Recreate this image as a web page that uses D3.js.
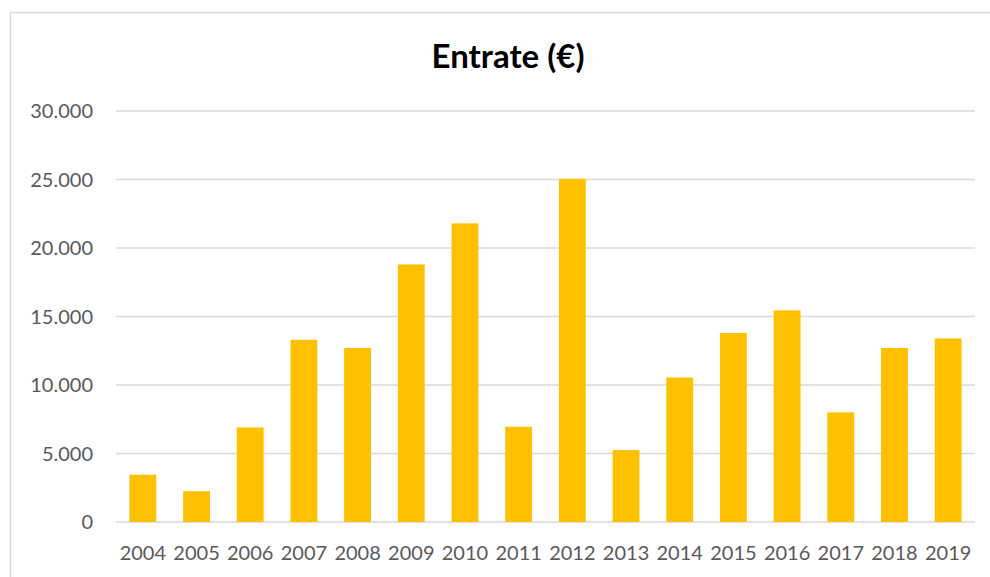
<!DOCTYPE html>
<html>
<head>
<meta charset="utf-8">
<script src="https://cdn.jsdelivr.net/npm/d3@7"></script>
<style>
  html, body { margin: 0; padding: 0; background: #fff; overflow: hidden; }
  svg { display: block; }
  text { font-family: Lato, "Open Sans", sans-serif; }
</style>
</head>
<body>
<div id="chart"></div>
<script>
const years = ["2004", "2005", "2006", "2007", "2008", "2009", "2010", "2011",
               "2012", "2013", "2014", "2015", "2016", "2017", "2018", "2019"];
const entrate = [3450, 2250, 6900, 13300, 12700, 18800, 21800, 6950,
                 25050, 5250, 10550, 13800, 15450, 8000, 12700, 13400];
const yTicks = [0, 5000, 10000, 15000, 20000, 25000, 30000];

const width = 990;
const height = 577;
const margin = {top: 111, right: 15, bottom: 55, left: 116};
const innerWidth = width - margin.left - margin.right;
const innerHeight = height - margin.top - margin.bottom;

const svg = d3.select('#chart')
    .append('svg')
    .attr('width', width)
    .attr('height', height);

// chart area border (only top and left edges are visible)
svg.append('path')
    .attr('d', `M10.5,${height} V12.5 H${width}`)
    .attr('fill', 'none')
    .attr('stroke', '#d9d9d9')
    .attr('stroke-width', 1.5);

svg.append('text')
    .attr('x', 508)
    .attr('y', 68)
    .attr('text-anchor', 'middle')
    .attr('font-size', 33)
    .attr('font-weight', 'bold')
    .attr('fill', '#000')
    .text('Entrate (€)');

const g = svg.append('g')
    .attr('transform', `translate(${margin.left},${margin.top})`);

const xScale = d3.scaleBand().domain(years).range([0, innerWidth]).paddingInner(0.5).paddingOuter(0.25);
const yScale = d3.scaleLinear().domain([0, 30000]).range([innerHeight, 0]);

const fmt = d => d3.format(',')(d).replace(/,/g, '.');

// gridlines
g.selectAll('line.grid')
    .data(yTicks)
    .enter().append('line')
    .attr('class', 'grid')
    .attr('x1', 0)
    .attr('x2', innerWidth)
    .attr('y1', d => yScale(d))
    .attr('y2', d => yScale(d))
    .attr('stroke', '#d9d9d9')
    .attr('stroke-width', 1.5);

// y labels
g.selectAll('text.ylab')
    .data(yTicks)
    .enter().append('text')
    .attr('class', 'ylab')
    .attr('x', -23)
    .attr('y', d => yScale(d))
    .attr('dy', '0.35em')
    .attr('text-anchor', 'end')
    .attr('fill', '#595959')
    .attr('font-size', 20)
    .text(fmt);

g.selectAll('rect.bar')
    .data(entrate)
    .enter().append('rect')
    .attr('class', 'bar')
    .attr('x', (d, i) => xScale(years[i]))
    .attr('y', d => yScale(d))
    .attr('width', xScale.bandwidth())
    .attr('height', d => innerHeight - yScale(d))
    .attr('fill', '#ffc000');

// x labels
g.selectAll('text.xlab')
    .data(years)
    .enter().append('text')
    .attr('class', 'xlab')
    .attr('x', d => xScale(d) + xScale.bandwidth() / 2)
    .attr('y', innerHeight + 38)
    .attr('text-anchor', 'middle')
    .attr('fill', '#595959')
    .attr('font-size', 20)
    .text(d => d);
</script>
</body>
</html>
